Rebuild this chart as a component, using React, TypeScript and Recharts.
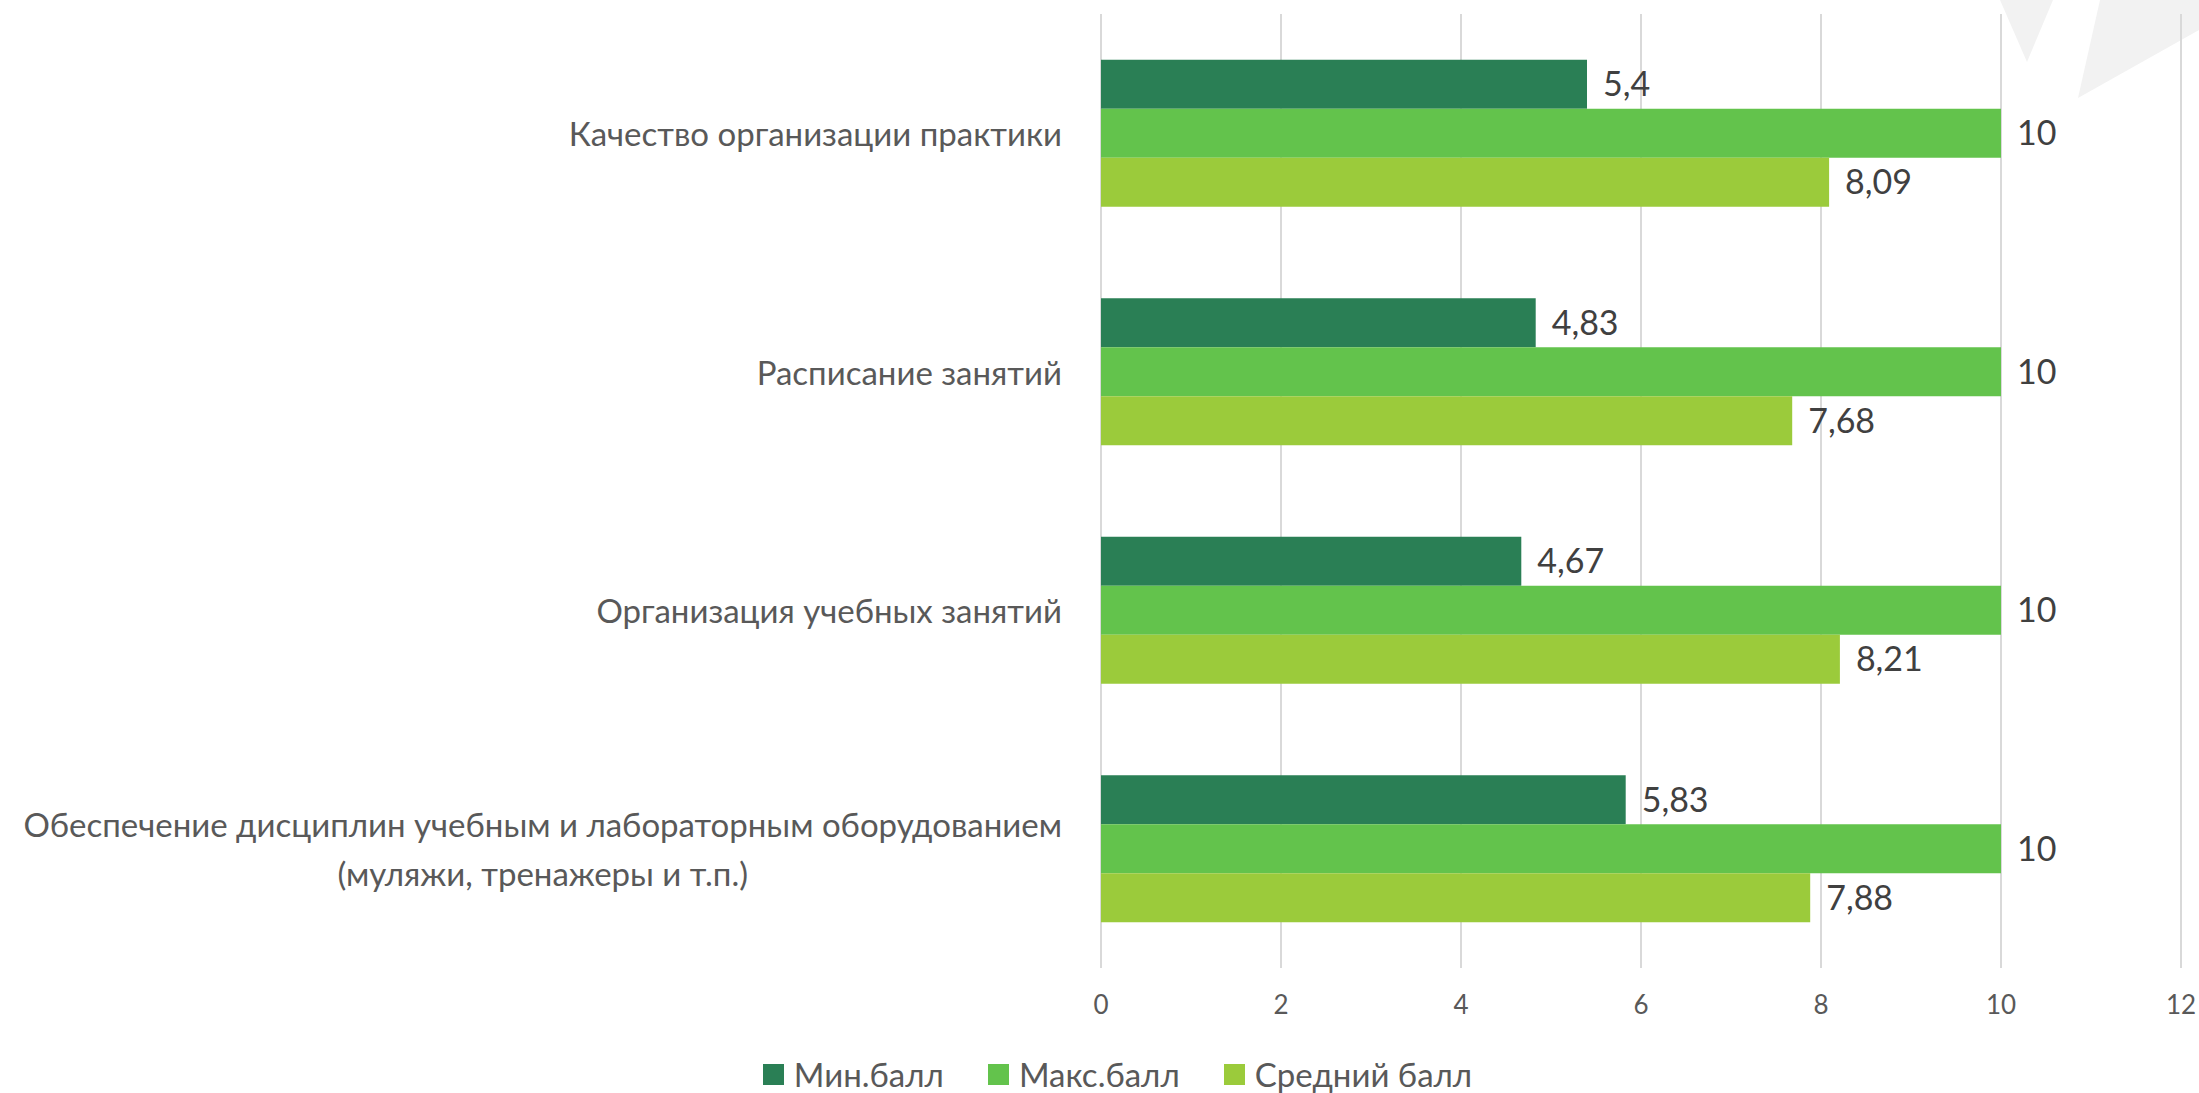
import { BarChart, Bar, XAxis, YAxis, CartesianGrid, Legend, LabelList } from "recharts";

const categories = [
    "Качество организации практики",
    "Расписание занятий",
    "Организация учебных занятий",
    "Обеспечение дисциплин учебным и лабораторным оборудованием\n(муляжи, тренажеры и т.п.)",
];
const minScores = [5.4, 4.83, 4.67, 5.83];
const maxScores = [10, 10, 10, 10];
const avgScores = [8.09, 7.68, 8.21, 7.88];
const xTicks = [0, 2, 4, 6, 8, 10, 12];

const series = [
    { key: "min", name: "Мин.балл", color: "#2A7F55" },
    { key: "max", name: "Макс.балл", color: "#63C34C" },
    { key: "avg", name: "Средний балл", color: "#9BCB3B" },
];

const data = categories.map((c, i) => ({
    category: c,
    min: minScores[i],
    max: maxScores[i],
    avg: avgScores[i],
}));

const FONT = "Lato, 'Open Sans', sans-serif";

const measure = (text: string, size: number) => {
    const ctx = document.createElement("canvas").getContext("2d");
    if (!ctx) return text.length * size * 0.5;
    ctx.font = `${size}px Lato`;
    return ctx.measureText(text).width;
};

const CategoryTick = (props: any) => {
    const { x, y, payload } = props;
    const lines: string[] = String(payload.value).split("\n");
    const size = 33;
    if (lines.length === 1) {
        return (
            <text x={x} y={y} textAnchor="end" dominantBaseline="central" fill="#595959" fontSize={size} fontFamily={FONT}>
                {lines[0]}
            </text>
        );
    }
    // многострочная подпись: блок прижат вправо, строки по центру
    const widest = Math.max(...lines.map((l) => measure(l, size)));
    const cx = x - widest / 2;
    const lh = 49;
    const start = y - ((lines.length - 1) * lh) / 2;
    return (
        <text textAnchor="middle" dominantBaseline="central" fill="#595959" fontSize={size} fontFamily={FONT}>
            {lines.map((l, i) => (
                <tspan key={i} x={cx} y={start + i * lh}>{l}</tspan>
            ))}
        </text>
    );
};

const ValueTick = (props: any) => {
    const { x, y, payload } = props;
    return (
        <text x={x} y={y + 36} textAnchor="middle" dominantBaseline="central" fill="#595959" fontSize={26} fontFamily={FONT}>
            {payload.value}
        </text>
    );
};

const LegendContent = () => (
    <div style={{ display: "flex", justifyContent: "center", gap: "44px", height: 35, marginLeft: 54, lineHeight: "32px", fontFamily: FONT, fontSize: 33, color: "#595959" }}>
        {series.map((s) => (
            <div key={s.key} style={{ display: "flex", alignItems: "center", gap: "10px", height: 32 }}>
                <div style={{ width: 21, height: 21, background: s.color }} />
                {s.name}
            </div>
        ))}
    </div>
);

const fmt = (v: any) => String(v).replace(".", ",");

export default function App() {
    return (
        <div style={{ position: "absolute", left: 0, top: 0, width: 2199, height: 1093, background: "#fff" }}>
            <svg width={2199} height={1093} style={{ position: "absolute", left: 0, top: 0 }}>
                <polygon points="2000,0 2053,0 2027,62" fill="#F2F2F2" />
                <polygon points="2100,0 2199,0 2199,30 2078,98" fill="#F2F2F2" />
            </svg>
            <div style={{ position: "absolute", left: 0, top: 0 }}>
                <BarChart
                    width={2199}
                    height={1093}
                    layout="vertical"
                    data={data}
                    margin={{ top: 14, right: 18, left: 0, bottom: 0 }}
                    barCategoryGap="19.2%"
                    barGap={0}
                >
                    <CartesianGrid horizontal={false} vertical={true} stroke="#D9D9D9" strokeWidth={2} />
                    <XAxis
                        type="number"
                        domain={[0, 12]}
                        ticks={xTicks}
                        height={90}
                        axisLine={false}
                        tickLine={false}
                        tickSize={0}
                        tickMargin={0}
                        tick={<ValueTick />}
                    />
                    <YAxis
                        type="category"
                        dataKey="category"
                        width={1101}
                        axisLine={false}
                        tickLine={false}
                        tickSize={0}
                        tickMargin={39}
                        interval={0}
                        tick={<CategoryTick />}
                    />
                    <Legend verticalAlign="bottom" content={<LegendContent />} />
                    {series.map((s) => (
                        <Bar key={s.key} dataKey={s.key} name={s.name} fill={s.color} isAnimationActive={false}>
                            <LabelList
                                dataKey={s.key}
                                position="right"
                                offset={16}
                                formatter={fmt}
                                fill="#404040"
                                fontSize={34}
                                fontFamily={FONT}
                            />
                        </Bar>
                    ))}
                </BarChart>
            </div>
        </div>
    );
}
